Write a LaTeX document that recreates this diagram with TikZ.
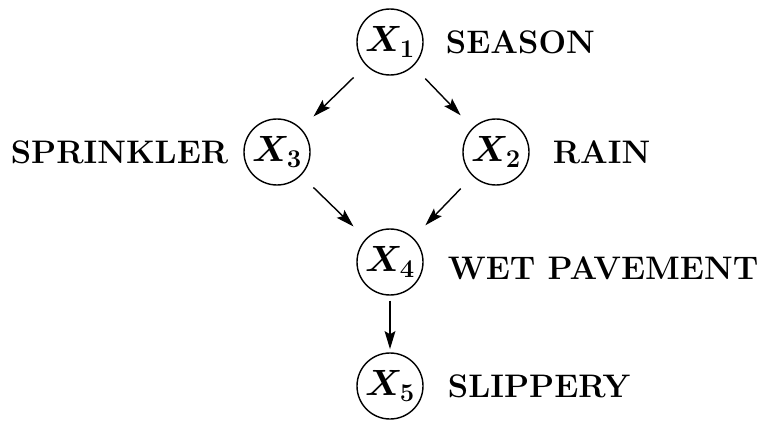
\RequirePackage{fix-cm}
\documentclass[tikz,border=0pt]{standalone}
\usetikzlibrary{positioning,arrows.meta}

\begin{document}
\begin{tikzpicture}[x=1cm,y=1cm,
  var/.style={circle, draw, line width=1pt, minimum size=1.65cm, inner sep=0pt, font=\fontsize{26}{30}\selectfont\boldmath},
  tag/.style={inner sep=0pt, font=\fontsize{23.2}{27}\selectfont\bfseries},
  edge/.style={-{Stealth[length=0.45cm,width=0.27cm,inset=0.08cm]}, line width=1pt, shorten <=0.43cm, shorten >=0.43cm}]
\useasboundingbox (0,0) rectangle (19.025,10.525);
\node[var] (x1) at (9.75,9.475) {$X_1$};
\node[var] (x3) at (6.925,6.725) {$X_3$};
\node[var] (x2) at (12.4,6.725) {$X_2$};
\node[var] (x4) at (9.75,3.975) {$X_4$};
\node[var] (x5) at (9.75,0.875) {$X_5$};
\node[tag, right=0.55cm of x1] (season) {SEASON};
\node[tag, left=0.37cm of x3] (sprinkler) {SPRINKLER};
\node[tag, right=0.57cm of x2] (rain) {RAIN};
\node[tag, right=0.6cm of x4, yshift=-0.15cm] (wet) {WET PAVEMENT};
\node[tag, right=0.6cm of x5] (slippery) {SLIPPERY};
\draw[edge] (x1) -- (x3);
\draw[edge] (x1) -- (x2);
\draw[edge] (x3) -- (x4);
\draw[edge] (x2) -- (x4);
\draw[edge, shorten <=0.12cm, shorten >=0.08cm] (x4) -- (x5);
\end{tikzpicture}
\end{document}
